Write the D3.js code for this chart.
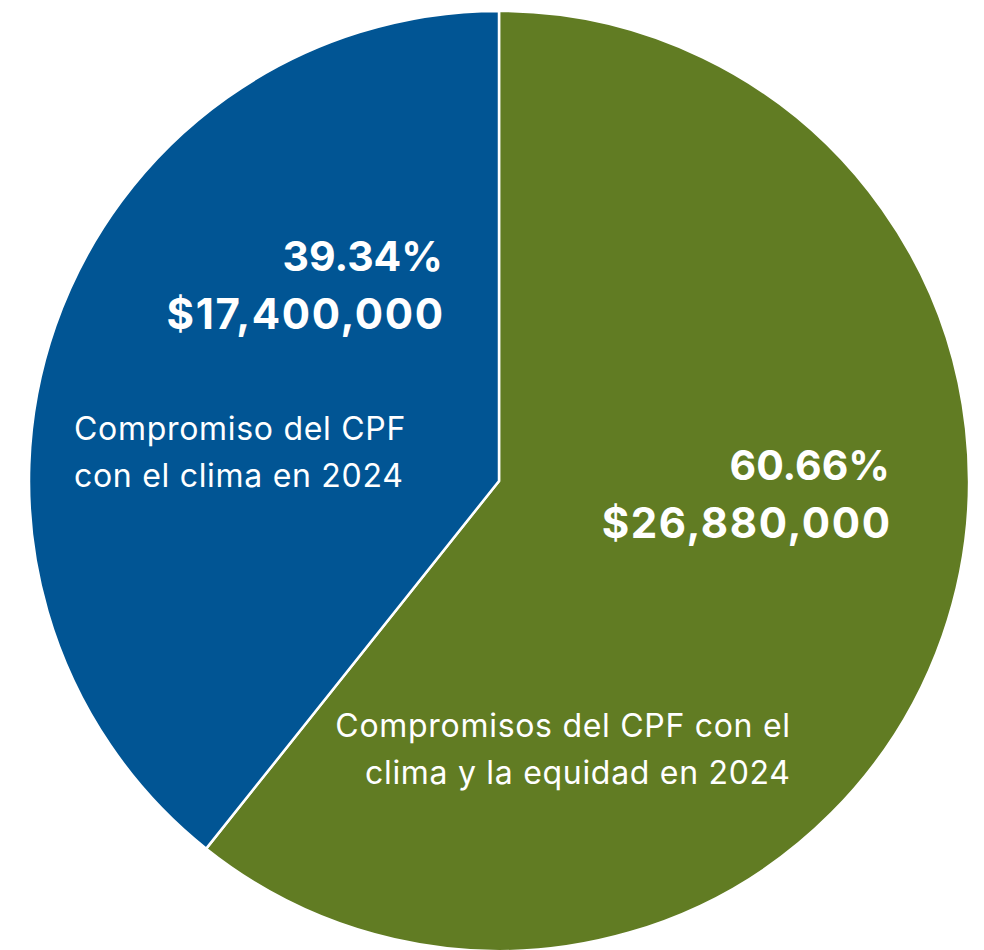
<!DOCTYPE html>
<html>
<head>
<meta charset="utf-8">
<script src="https://cdn.jsdelivr.net/npm/d3@7"></script>
<style>
  body { margin: 0; background: #fff; }
  svg text { font-family: Inter, "Liberation Sans", sans-serif; fill: #fff; }
</style>
</head>
<body>
<svg id="chart" width="984" height="950"></svg>
<script>
var categories = ["Compromisos del CPF con el clima y la equidad en 2024", "Compromiso del CPF con el clima en 2024"]
var amounts = [26880000, 17400000]
var percents = ["60.66%", "39.34%"]
var colors = ["#617c23", "#015594"]

var svg = d3.select("#chart")
var cx = 499, cy = 481, r = 470

var pie = d3.pie().sort(null).value(function(d){ return d })
var arc = d3.arc().innerRadius(0).outerRadius(r)

var g = svg.append("g").attr("transform", "translate(" + cx + "," + cy + ")")

g.selectAll("path")
    .data(pie(amounts)).enter()
    .append("path")
        .attr("d", arc)
        .style("fill", function(d, i){ return colors[i] })
        .style("stroke", "#fff")
        .style("stroke-width", 2.5)

var fmt = d3.format("$,")

// labels: bold % and amount, then category name
var labels = [
  {pct: percents[0], amt: fmt(amounts[0]), x: 890, y: 480, cat: ["Compromisos del CPF con el", "clima y la equidad en 2024"], cx: 790, cy: 737, anchor: "end"},
  {pct: percents[1], amt: fmt(amounts[1]), x: 443, y: 271, cat: ["Compromiso del CPF", "con el clima en 2024"], cx: 74, cy: 440, anchor: "start"}
]

labels.forEach(function(l){
  svg.append("text")
      .attr("x", l.x).attr("y", l.y)
      .attr("text-anchor", "end")
      .style("font-size", "41px").style("font-weight", "bold")
      .text(l.pct)
  svg.append("text")
      .attr("x", l.x + 1.6).attr("y", l.y + 58)
      .attr("text-anchor", "end")
      .style("font-size", "42px").style("font-weight", "bold")
      .style("letter-spacing", "1.6px")
      .text(l.amt)
  l.cat.forEach(function(line, i){
    svg.append("text")
        .attr("x", l.anchor == "end" ? l.cx + 0.7 : l.cx).attr("y", l.cy + i*47)
        .attr("text-anchor", l.anchor)
        .style("font-size", "32px")
        .style("letter-spacing", "0.7px")
        .text(line)
  })
})
</script>
</body>
</html>
